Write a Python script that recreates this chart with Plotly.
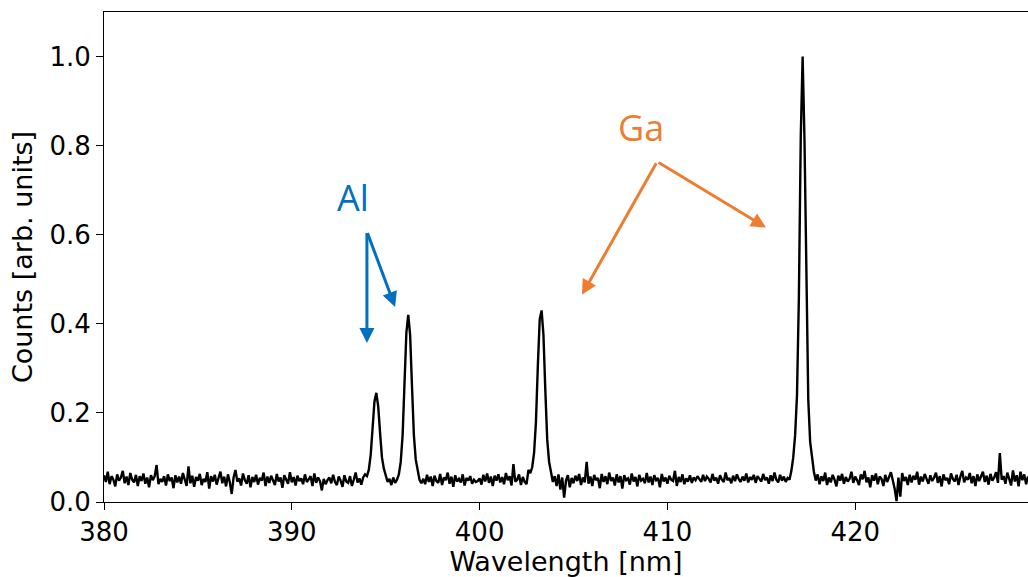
import numpy as np
import plotly.graph_objects as go

# Wavelength grid (nm): start, step, count
wl_start = 380.0
wl_step = 0.1

# Normalised counts, one row per nm (x.0 ... x.9)
counts_rows = [
    [0.060, 0.045, 0.068, 0.040, 0.058, 0.050, 0.035, 0.062, 0.048, 0.055],  # 380
    [0.070, 0.042, 0.057, 0.038, 0.065, 0.050, 0.044, 0.061, 0.036, 0.058],  # 381
    [0.047, 0.064, 0.041, 0.055, 0.033, 0.060, 0.049, 0.058, 0.083, 0.040],  # 382
    [0.052, 0.045, 0.058, 0.037, 0.062, 0.047, 0.055, 0.031, 0.060, 0.044],  # 383
    [0.057, 0.041, 0.065, 0.050, 0.036, 0.080, 0.042, 0.059, 0.034, 0.056],  # 384
    [0.048, 0.063, 0.038, 0.052, 0.045, 0.067, 0.030, 0.058, 0.046, 0.061],  # 385
    [0.039, 0.054, 0.068, 0.042, 0.057, 0.035, 0.062, 0.044, 0.018, 0.055],  # 386
    [0.072, 0.046, 0.053, 0.037, 0.064, 0.049, 0.041, 0.060, 0.033, 0.056],  # 387
    [0.045, 0.061, 0.039, 0.054, 0.048, 0.066, 0.036, 0.057, 0.043, 0.059],  # 388
    [0.050, 0.038, 0.063, 0.046, 0.055, 0.032, 0.060, 0.049, 0.041, 0.067],  # 389
    [0.044, 0.056, 0.037, 0.059, 0.047, 0.053, 0.040, 0.062, 0.045, 0.051],  # 390
    [0.058, 0.036, 0.064, 0.043, 0.055, 0.047, 0.026, 0.052, 0.040, 0.049],  # 391
    [0.055, 0.042, 0.061, 0.045, 0.038, 0.057, 0.048, 0.034, 0.060, 0.046],  # 392
    [0.043, 0.058, 0.036, 0.050, 0.066, 0.044, 0.053, 0.039, 0.055, 0.062],  # 393
    [0.058, 0.072, 0.105, 0.165, 0.225, 0.245, 0.215, 0.155, 0.100, 0.075],  # 394
    [0.060, 0.045, 0.052, 0.038, 0.055, 0.043, 0.050, 0.062, 0.090, 0.150],  # 395
    [0.265, 0.380, 0.420, 0.375, 0.260, 0.150, 0.095, 0.068, 0.050, 0.042],  # 396
    [0.052, 0.040, 0.061, 0.045, 0.057, 0.036, 0.059, 0.047, 0.043, 0.063],  # 397
    [0.038, 0.055, 0.049, 0.066, 0.041, 0.057, 0.034, 0.060, 0.046, 0.052],  # 398
    [0.044, 0.062, 0.037, 0.054, 0.048, 0.058, 0.041, 0.050, 0.045, 0.047],  # 399
    [0.053, 0.039, 0.061, 0.046, 0.064, 0.043, 0.057, 0.036, 0.059, 0.048],  # 400
    [0.062, 0.044, 0.056, 0.040, 0.065, 0.049, 0.058, 0.037, 0.085, 0.046],  # 401
    [0.050, 0.062, 0.038, 0.056, 0.045, 0.040, 0.072, 0.065, 0.078, 0.110],  # 402
    [0.180, 0.305, 0.410, 0.430, 0.375, 0.250, 0.140, 0.090, 0.062, 0.045],  # 403
    [0.058, 0.036, 0.062, 0.028, 0.055, 0.010, 0.048, 0.060, 0.033, 0.054],  # 404
    [0.042, 0.059, 0.047, 0.063, 0.038, 0.055, 0.044, 0.090, 0.041, 0.057],  # 405
    [0.036, 0.061, 0.049, 0.054, 0.031, 0.063, 0.045, 0.058, 0.040, 0.066],  # 406
    [0.047, 0.055, 0.037, 0.062, 0.044, 0.058, 0.030, 0.060, 0.049, 0.053],  # 407
    [0.039, 0.064, 0.046, 0.056, 0.035, 0.061, 0.048, 0.052, 0.042, 0.065],  # 408
    [0.044, 0.057, 0.038, 0.060, 0.049, 0.054, 0.033, 0.063, 0.046, 0.055],  # 409
    [0.041, 0.059, 0.050, 0.047, 0.070, 0.036, 0.056, 0.045, 0.062, 0.040],  # 410
    [0.053, 0.046, 0.060, 0.043, 0.055, 0.049, 0.058, 0.051, 0.045, 0.061],  # 411
    [0.047, 0.057, 0.052, 0.044, 0.063, 0.048, 0.055, 0.041, 0.060, 0.050],  # 412
    [0.045, 0.066, 0.049, 0.054, 0.042, 0.059, 0.047, 0.062, 0.051, 0.045],  # 413
    [0.057, 0.048, 0.064, 0.044, 0.056, 0.050, 0.061, 0.043, 0.058, 0.052],  # 414
    [0.046, 0.063, 0.049, 0.055, 0.041, 0.060, 0.047, 0.066, 0.050, 0.044],  # 415
    [0.061, 0.048, 0.057, 0.045, 0.054, 0.050, 0.070, 0.100, 0.150, 0.240],  # 416
    [0.460, 0.820, 1.000, 0.810, 0.460, 0.230, 0.135, 0.095, 0.068, 0.048],  # 417
    [0.062, 0.040, 0.058, 0.047, 0.066, 0.038, 0.055, 0.044, 0.061, 0.050],  # 418
    [0.035, 0.059, 0.048, 0.063, 0.041, 0.056, 0.046, 0.052, 0.068, 0.043],  # 419
    [0.057, 0.049, 0.038, 0.062, 0.051, 0.070, 0.044, 0.055, 0.033, 0.060],  # 420
    [0.048, 0.064, 0.040, 0.057, 0.052, 0.036, 0.061, 0.045, 0.055, 0.067],  # 421
    [0.049, 0.030, 0.002, 0.055, 0.012, 0.065, 0.047, 0.056, 0.038, 0.061],  # 422
    [0.044, 0.059, 0.050, 0.068, 0.039, 0.057, 0.046, 0.063, 0.052, 0.041],  # 423
    [0.060, 0.047, 0.055, 0.066, 0.043, 0.058, 0.035, 0.062, 0.049, 0.054],  # 424
    [0.040, 0.064, 0.052, 0.046, 0.061, 0.038, 0.057, 0.070, 0.044, 0.055],  # 425
    [0.050, 0.065, 0.042, 0.058, 0.036, 0.062, 0.047, 0.056, 0.068, 0.045],  # 426
    [0.059, 0.039, 0.063, 0.048, 0.055, 0.067, 0.043, 0.110, 0.050, 0.058],  # 427
    [0.041, 0.066, 0.052, 0.037, 0.071, 0.046, 0.060, 0.035, 0.068, 0.049],  # 428
    [0.062, 0.040, 0.057],                                                   # 429
]

x_ticks = [380, 390, 400, 410, 420]
y_ticks = [0.0, 0.2, 0.4, 0.6, 0.8, 1.0]

# Annotation labels
al_label = "Al"
ga_label = "Ga"

counts = [v for row in counts_rows for v in row]
wavelength = np.round(wl_start + wl_step * np.arange(len(counts)), 2)

fig = go.Figure()
fig.add_trace(go.Scatter(
    x=wavelength, y=counts, mode="lines",
    line=dict(color="black", width=2.4), showlegend=False,
))

BLUE = "#0070C0"
ORANGE = "#ED7D31"

def arrow(tail, head, color):
    fig.add_annotation(
        x=head[0], y=head[1], ax=tail[0], ay=tail[1],
        xref="x", yref="y", axref="x", ayref="y",
        text="", showarrow=True, arrowhead=2, arrowsize=1.0,
        arrowwidth=3, arrowcolor=color, standoff=0, startstandoff=0,
    )

# Al arrows
arrow((394.0, 0.607), (394.0, 0.357), BLUE)
arrow((394.0, 0.607), (395.5, 0.438), BLUE)
# Ga arrows
arrow((409.45, 0.764), (405.45, 0.465), ORANGE)
arrow((409.45, 0.764), (415.25, 0.616), ORANGE)

fig.add_annotation(x=393.26, y=0.683, xref="x", yref="y", text=al_label,
                   showarrow=False, font=dict(family="Open Sans", size=36, color=BLUE))
fig.add_annotation(x=408.6, y=0.840, xref="x", yref="y", text=ga_label,
                   showarrow=False, font=dict(family="Open Sans", size=36, color=ORANGE))

axis_font = dict(family="DejaVu Sans", size=26, color="black")
fig.update_layout(
    width=1028, height=577,
    margin=dict(l=104, r=0, t=12, b=75),
    paper_bgcolor="white", plot_bgcolor="white",
    font=dict(family="DejaVu Sans", color="black"),
    xaxis=dict(
        range=[380, 429.2], tickvals=x_ticks, ticktext=[str(t) for t in x_ticks],
        showgrid=False, zeroline=False, showline=True, linecolor="black", linewidth=1,
        mirror=True, ticks="outside", ticklen=7, tickcolor="black",
        tickfont=axis_font,
        title=dict(text="Wavelength [nm]", font=dict(family="DejaVu Sans", size=27), standoff=8),
    ),
    yaxis=dict(
        range=[0, 1.1], tickvals=y_ticks, ticktext=[f"{t:.1f}" for t in y_ticks],
        showgrid=False, zeroline=False, showline=True, linecolor="black", linewidth=1,
        mirror=False, ticks="outside", ticklen=7, tickcolor="black",
        tickfont=axis_font,
        title=dict(text="Counts [arb. units]", font=dict(family="DejaVu Sans", size=27), standoff=8),
    ),
)

fig.write_html(
    "out.html",
    config={"displayModeBar": False},
    post_script="document.body.style.margin='0';document.body.style.overflow='hidden';",
)
